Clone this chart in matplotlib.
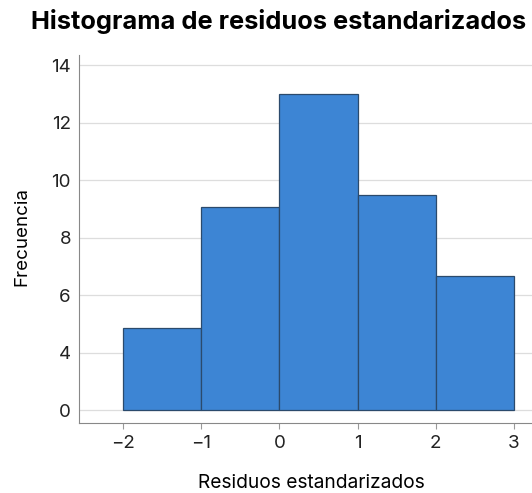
import matplotlib
matplotlib.use('Agg')
import matplotlib.pyplot as plt
import numpy as np

# data
bin_edges = [-2, -1, 0, 1, 2, 3]
counts = [4.85, 9.05, 13.0, 9.5, 6.65]
# the reference axis puts the "0" label where 2 would be (compressed axis)
baseline = 2
ytick_pos = [2, 4, 6, 8, 10, 12, 14]
ytick_labels = ['0', '4', '6', '8', '10', '12', '14']
xticks = [-2, -1, 0, 1, 2, 3]

plt.rcParams['font.family'] = ['Inter', 'DejaVu Sans']

fig = plt.figure(figsize=(5.32, 4.93), dpi=100)
ax = fig.add_axes([0.149, 0.142, 0.851, 0.746])

edges = np.array(bin_edges, dtype=float)
widths = np.diff(edges)
heights = np.array(counts) - baseline
ax.bar(edges[:-1], heights, width=widths, bottom=baseline, align='edge',
       color='#3d85d4', edgecolor='#2b4a6c', linewidth=0.9, zorder=3)

ax.set_xlim(-2.56, 3.23)
ax.set_ylim(1.55, 14.35)
ax.set_yticks(ytick_pos)
ax.set_yticklabels(ytick_labels)
ax.set_xticks(xticks)
ax.set_xticklabels([str(v).replace('-', '\u2212') for v in xticks])

ax.grid(axis='y', color='#dddddd', linewidth=0.9, zorder=0)
for s in ['top', 'right']:
    ax.spines[s].set_visible(False)
ax.spines['left'].set_color('#888888')
ax.spines['bottom'].set_color('#888888')
ax.tick_params(axis='y', length=0, labelsize=13.5, pad=6, colors='#222222')
ax.tick_params(axis='x', length=4, color='#999999', labelsize=13.5, pad=5, colors='#222222')

fig.text(21.5 / 532, 0.521, 'Frecuencia', fontsize=13.5, rotation=90,
         ha='center', va='center')
fig.text(311 / 532, 0.010, 'Residuos estandarizados', fontsize=13.8,
         ha='center', va='baseline')
fig.text(279 / 532, 0.941, 'Histograma de residuos estandarizados', fontsize=18.3,
         fontweight='bold', ha='center', va='baseline')

plt.savefig('out.png', dpi=100)
plt.close()
